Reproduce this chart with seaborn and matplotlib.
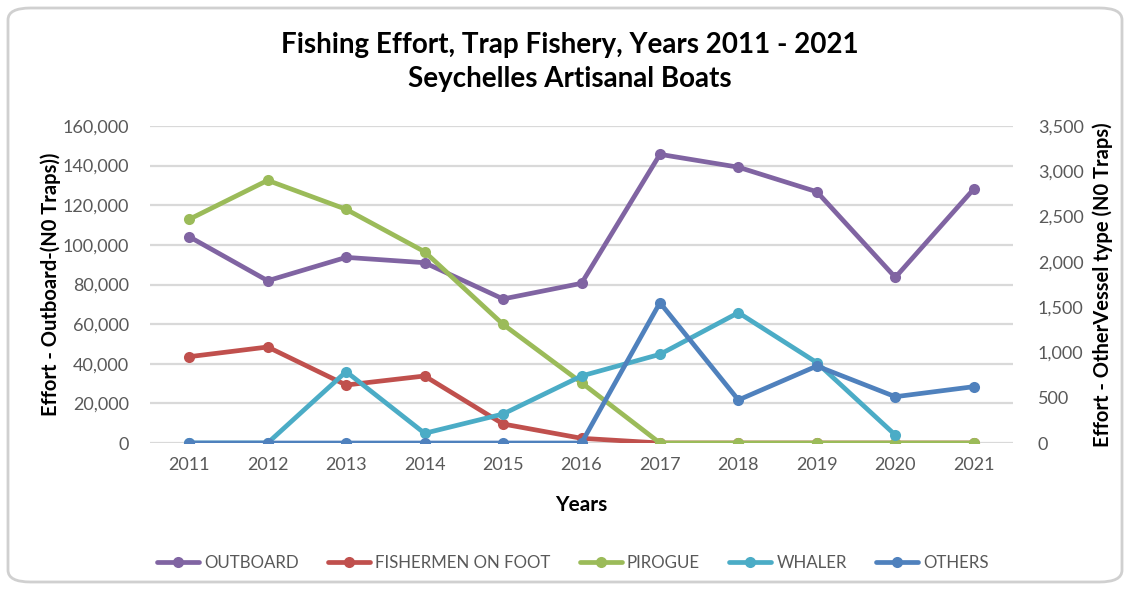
import numpy as np
import pandas as pd
import matplotlib
matplotlib.use("Agg")
import matplotlib.pyplot as plt
from matplotlib.lines import Line2D
from matplotlib.patches import FancyBboxPatch
import seaborn as sns

years = [2011, 2012, 2013, 2014, 2015, 2016, 2017, 2018, 2019, 2020, 2021]
outboard = [104100, 81900, 93700, 91000, 72700, 80600, 145700, 139200, 126800, 83600, 128200]
fishermen_on_foot = [953, 1060, 640, 740, 210, 52, 0, 0, 0, 0, 0]
pirogue = [2470, 2900, 2580, 2112, 1310, 666, 0, 0, 0, 0, 0]
whaler = [0, 0, 788, 107, 320, 740, 979, 1439, 887, 88, np.nan]
others = [0, 0, 0, 0, 0, 0, 1549, 475, 850, 511, 622]

series_names = ["OUTBOARD", "FISHERMEN ON FOOT", "PIROGUE", "WHALER", "OTHERS"]
colors = ["#8064A2", "#C0504D", "#9BBB59", "#4BACC6", "#4F81BD"]

left_ticks = [0, 20000, 40000, 60000, 80000, 100000, 120000, 140000, 160000]
right_ticks = [0, 500, 1000, 1500, 2000, 2500, 3000, 3500]

sns.set_theme(style="white")
FONT = ["Lato", "DejaVu Sans"]
plt.rcParams["font.family"] = FONT

fig = plt.figure(figsize=(11.32, 5.9), dpi=100)
ax = fig.add_axes([150/1132, 1-443/590, (1013-150)/1132, (443-126)/590])
ax2 = ax.twinx()

df_left = pd.DataFrame({"Year": years, "Value": outboard, "Type": "OUTBOARD"})
df_right = pd.concat([
    pd.DataFrame({"Year": years, "Value": fishermen_on_foot, "Type": "FISHERMEN ON FOOT"}),
    pd.DataFrame({"Year": years, "Value": pirogue, "Type": "PIROGUE"}),
    pd.DataFrame({"Year": years, "Value": whaler, "Type": "WHALER"}),
    pd.DataFrame({"Year": years, "Value": others, "Type": "OTHERS"}),
]).dropna()

lw = 3.4
ms = 8
sns.lineplot(data=df_left, x="Year", y="Value", color=colors[0], marker="o",
             markersize=ms, markeredgewidth=0, linewidth=lw, ax=ax, legend=False)
sns.lineplot(data=df_right, x="Year", y="Value", hue="Type",
             hue_order=series_names[1:], palette=colors[1:], marker="o",
             markersize=ms, markeredgewidth=0, linewidth=lw, ax=ax2, legend=False)

ax.set_xlim(2010.5, 2021.5)
ax.set_ylim(0, 160000)
ax2.set_ylim(0, 3500)
ax.set_xticks(years)
ax.set_xticklabels([str(y) for y in years])
ax.set_yticks(left_ticks)
ax.set_yticklabels([f"{v:,}" for v in left_ticks])
ax2.set_yticks(right_ticks)
ax2.set_yticklabels([f"{v:,}" for v in right_ticks])

ax.grid(True, axis="y", color="#D9D9D9", linewidth=1.6)
ax.grid(False, axis="x")
ax2.grid(False)
for a in (ax, ax2):
    for s in a.spines.values():
        s.set_visible(False)
    a.tick_params(axis="both", length=0, labelsize=13, labelcolor="#595959")
ax.tick_params(axis="y", pad=15)
ax.tick_params(axis="x", pad=10)
ax2.tick_params(axis="y", pad=18)

ax.set_xlabel("Years", fontsize=15, fontweight="bold", color="black", labelpad=16)
ax.set_ylabel("Effort - Outboard-(N0 Traps))", fontsize=14.5, fontweight="bold", color="black", labelpad=1)
ax2.set_ylabel("Effort - OtherVessel type (N0 Traps)", fontsize=14.5, fontweight="bold", color="black", labelpad=6)

fig.text(0.503, 1-45/590, "Fishing Effort, Trap Fishery, Years 2011 - 2021",
         ha="center", va="center", fontsize=20, fontweight="bold", color="black")
fig.text(0.503, 1-79/590, "Seychelles Artisanal Boats",
         ha="center", va="center", fontsize=20, fontweight="bold", color="black")

handles = [Line2D([0], [0], color=c, linewidth=lw, marker="o", markersize=ms,
                  markeredgewidth=0) for c in colors]
leg = fig.legend(handles, series_names, loc="center", bbox_to_anchor=(0.506, 1-563/590),
                 ncol=5, frameon=False, fontsize=12.2, handlelength=2.5,
                 columnspacing=1.7, handletextpad=0.3)
for t in leg.get_texts():
    t.set_color("#595959")

border = FancyBboxPatch((8/1132, 8/590), 1114/1132, 574/590,
                        boxstyle="round,pad=0,rounding_size=0.02",
                        transform=fig.transFigure, facecolor="none",
                        edgecolor="#D0D0D0", linewidth=2, zorder=-1)
fig.patches.append(border)

fig.savefig("out.png", dpi=100)
